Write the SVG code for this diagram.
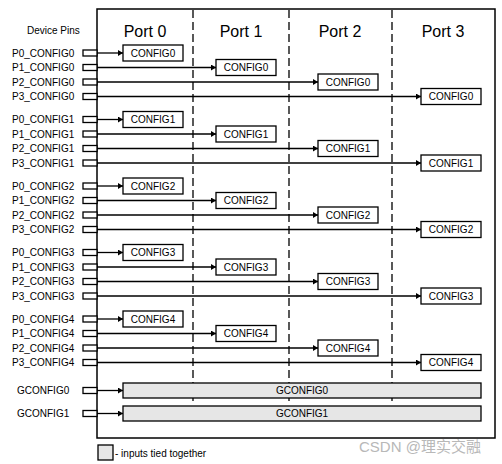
<svg xmlns="http://www.w3.org/2000/svg" width="502" height="464" viewBox="0 0 502 464">
<defs>
<marker id="ah" markerWidth="6" markerHeight="6" refX="5" refY="3" orient="auto" markerUnits="userSpaceOnUse">
<path d="M0,0 L5,3 L0,6 Z" fill="#000"/>
</marker>
<style>
text{font-family:"Liberation Sans",Arial,sans-serif;fill:#000}
.lbl{font-size:10px}
.port{font-size:16px;text-anchor:middle}
.bt{font-size:10px;text-anchor:middle}
.stub{fill:#fff;stroke:#000;stroke-width:1.3}
.box{fill:#fff;stroke:#000;stroke-width:1.3}
.bar{fill:#e6e6e6;stroke:#000;stroke-width:1.3}
.ln{stroke:#000;stroke-width:1.3;fill:none}
.dash{stroke:#000;stroke-width:1.3;stroke-dasharray:8,4;fill:none}
</style>
</defs>
<rect width="502" height="464" fill="#fff"/>
<g id="frame">
<rect x="97" y="9" width="398" height="429" fill="none" stroke="#000" stroke-width="1.5"/>
<line class="dash" x1="193" y1="10" x2="193" y2="401"/>
<line class="dash" x1="289" y1="10" x2="289" y2="401"/>
<line class="dash" x1="392" y1="10" x2="392" y2="401"/>
<text class="port" x="145" y="37">Port 0</text>
<text class="port" x="241" y="37">Port 1</text>
<text class="port" x="340" y="37">Port 2</text>
<text class="port" x="443" y="37">Port 3</text>
<text class="lbl" x="27" y="34">Device Pins</text>
</g>
<g id="connectors">
<line class="ln" x1="97" y1="53" x2="123" y2="53" marker-end="url(#ah)"/>
<line class="ln" x1="97" y1="67.5" x2="216" y2="67.5" marker-end="url(#ah)"/>
<line class="ln" x1="97" y1="82" x2="318" y2="82" marker-end="url(#ah)"/>
<line class="ln" x1="97" y1="96.5" x2="421" y2="96.5" marker-end="url(#ah)"/>
<line class="ln" x1="97" y1="119.5" x2="123" y2="119.5" marker-end="url(#ah)"/>
<line class="ln" x1="97" y1="134" x2="216" y2="134" marker-end="url(#ah)"/>
<line class="ln" x1="97" y1="148.5" x2="318" y2="148.5" marker-end="url(#ah)"/>
<line class="ln" x1="97" y1="163" x2="421" y2="163" marker-end="url(#ah)"/>
<line class="ln" x1="97" y1="186" x2="123" y2="186" marker-end="url(#ah)"/>
<line class="ln" x1="97" y1="200.5" x2="216" y2="200.5" marker-end="url(#ah)"/>
<line class="ln" x1="97" y1="215" x2="318" y2="215" marker-end="url(#ah)"/>
<line class="ln" x1="97" y1="229.5" x2="421" y2="229.5" marker-end="url(#ah)"/>
<line class="ln" x1="97" y1="252.5" x2="123" y2="252.5" marker-end="url(#ah)"/>
<line class="ln" x1="97" y1="267" x2="216" y2="267" marker-end="url(#ah)"/>
<line class="ln" x1="97" y1="281.5" x2="318" y2="281.5" marker-end="url(#ah)"/>
<line class="ln" x1="97" y1="296" x2="421" y2="296" marker-end="url(#ah)"/>
<line class="ln" x1="97" y1="319" x2="123" y2="319" marker-end="url(#ah)"/>
<line class="ln" x1="97" y1="333.5" x2="216" y2="333.5" marker-end="url(#ah)"/>
<line class="ln" x1="97" y1="348" x2="318" y2="348" marker-end="url(#ah)"/>
<line class="ln" x1="97" y1="362.5" x2="421" y2="362.5" marker-end="url(#ah)"/>
<line class="ln" x1="97" y1="390.5" x2="123" y2="390.5" marker-end="url(#ah)"/>
<line class="ln" x1="97" y1="413.5" x2="123" y2="413.5" marker-end="url(#ah)"/>
</g>
<g id="pins">
<rect class="stub" x="83" y="50" width="14" height="6"/><text class="lbl" x="12" y="56.5">P0_CONFIG0</text>
<rect class="stub" x="83" y="64.5" width="14" height="6"/><text class="lbl" x="12" y="71">P1_CONFIG0</text>
<rect class="stub" x="83" y="79" width="14" height="6"/><text class="lbl" x="12" y="85.5">P2_CONFIG0</text>
<rect class="stub" x="83" y="93.5" width="14" height="6"/><text class="lbl" x="12" y="100">P3_CONFIG0</text>
<rect class="stub" x="83" y="116.5" width="14" height="6"/><text class="lbl" x="12" y="123">P0_CONFIG1</text>
<rect class="stub" x="83" y="131" width="14" height="6"/><text class="lbl" x="12" y="137.5">P1_CONFIG1</text>
<rect class="stub" x="83" y="145.5" width="14" height="6"/><text class="lbl" x="12" y="152">P2_CONFIG1</text>
<rect class="stub" x="83" y="160" width="14" height="6"/><text class="lbl" x="12" y="166.5">P3_CONFIG1</text>
<rect class="stub" x="83" y="183" width="14" height="6"/><text class="lbl" x="12" y="189.5">P0_CONFIG2</text>
<rect class="stub" x="83" y="197.5" width="14" height="6"/><text class="lbl" x="12" y="204">P1_CONFIG2</text>
<rect class="stub" x="83" y="212" width="14" height="6"/><text class="lbl" x="12" y="218.5">P2_CONFIG2</text>
<rect class="stub" x="83" y="226.5" width="14" height="6"/><text class="lbl" x="12" y="233">P3_CONFIG2</text>
<rect class="stub" x="83" y="249.5" width="14" height="6"/><text class="lbl" x="12" y="256">P0_CONFIG3</text>
<rect class="stub" x="83" y="264" width="14" height="6"/><text class="lbl" x="12" y="270.5">P1_CONFIG3</text>
<rect class="stub" x="83" y="278.5" width="14" height="6"/><text class="lbl" x="12" y="285">P2_CONFIG3</text>
<rect class="stub" x="83" y="293" width="14" height="6"/><text class="lbl" x="12" y="299.5">P3_CONFIG3</text>
<rect class="stub" x="83" y="316" width="14" height="6"/><text class="lbl" x="12" y="322.5">P0_CONFIG4</text>
<rect class="stub" x="83" y="330.5" width="14" height="6"/><text class="lbl" x="12" y="337">P1_CONFIG4</text>
<rect class="stub" x="83" y="345" width="14" height="6"/><text class="lbl" x="12" y="351.5">P2_CONFIG4</text>
<rect class="stub" x="83" y="359.5" width="14" height="6"/><text class="lbl" x="12" y="366">P3_CONFIG4</text>
<rect class="stub" x="83" y="387.5" width="14" height="6"/><text class="lbl" x="17" y="394">GCONFIG0</text>
<rect class="stub" x="83" y="410.5" width="14" height="6"/><text class="lbl" x="17" y="417">GCONFIG1</text>
</g>
<g id="p0c0"><rect class="box" x="123" y="45" width="60" height="16"/><text class="bt" x="153" y="56.5">CONFIG0</text></g>
<g id="p1c0"><rect class="box" x="216" y="59.5" width="60" height="16"/><text class="bt" x="246" y="71">CONFIG0</text></g>
<g id="p2c0"><rect class="box" x="318" y="74" width="60" height="16"/><text class="bt" x="348" y="85.5">CONFIG0</text></g>
<g id="p3c0"><rect class="box" x="421" y="88.5" width="60" height="16"/><text class="bt" x="451" y="100">CONFIG0</text></g>
<g id="p0c1"><rect class="box" x="123" y="111.5" width="60" height="16"/><text class="bt" x="153" y="123">CONFIG1</text></g>
<g id="p1c1"><rect class="box" x="216" y="126" width="60" height="16"/><text class="bt" x="246" y="137.5">CONFIG1</text></g>
<g id="p2c1"><rect class="box" x="318" y="140.5" width="60" height="16"/><text class="bt" x="348" y="152">CONFIG1</text></g>
<g id="p3c1"><rect class="box" x="421" y="155" width="60" height="16"/><text class="bt" x="451" y="166.5">CONFIG1</text></g>
<g id="p0c2"><rect class="box" x="123" y="178" width="60" height="16"/><text class="bt" x="153" y="189.5">CONFIG2</text></g>
<g id="p1c2"><rect class="box" x="216" y="192.5" width="60" height="16"/><text class="bt" x="246" y="204">CONFIG2</text></g>
<g id="p2c2"><rect class="box" x="318" y="207" width="60" height="16"/><text class="bt" x="348" y="218.5">CONFIG2</text></g>
<g id="p3c2"><rect class="box" x="421" y="221.5" width="60" height="16"/><text class="bt" x="451" y="233">CONFIG2</text></g>
<g id="p0c3"><rect class="box" x="123" y="244.5" width="60" height="16"/><text class="bt" x="153" y="256">CONFIG3</text></g>
<g id="p1c3"><rect class="box" x="216" y="259" width="60" height="16"/><text class="bt" x="246" y="270.5">CONFIG3</text></g>
<g id="p2c3"><rect class="box" x="318" y="273.5" width="60" height="16"/><text class="bt" x="348" y="285">CONFIG3</text></g>
<g id="p3c3"><rect class="box" x="421" y="288" width="60" height="16"/><text class="bt" x="451" y="299.5">CONFIG3</text></g>
<g id="p0c4"><rect class="box" x="123" y="311" width="60" height="16"/><text class="bt" x="153" y="322.5">CONFIG4</text></g>
<g id="p1c4"><rect class="box" x="216" y="325.5" width="60" height="16"/><text class="bt" x="246" y="337">CONFIG4</text></g>
<g id="p2c4"><rect class="box" x="318" y="340" width="60" height="16"/><text class="bt" x="348" y="351.5">CONFIG4</text></g>
<g id="p3c4"><rect class="box" x="421" y="354.5" width="60" height="16"/><text class="bt" x="451" y="366">CONFIG4</text></g>
<g id="gconfig0"><rect class="bar" x="123" y="383" width="358" height="15"/><text class="bt" x="302" y="394">GCONFIG0</text></g>
<g id="gconfig1"><rect class="bar" x="123" y="406" width="358" height="15"/><text class="bt" x="302" y="417">GCONFIG1</text></g>
<g id="legend">
<rect class="bar" x="98" y="445" width="15" height="15"/>
<text class="lbl" x="115" y="457">- inputs tied together</text>
</g>
<text x="359" y="452" style="font-size:15px;fill:#b8b8b8;font-family:'Liberation Sans','Noto Sans CJK SC',sans-serif">CSDN @理实交融</text>
</svg>
